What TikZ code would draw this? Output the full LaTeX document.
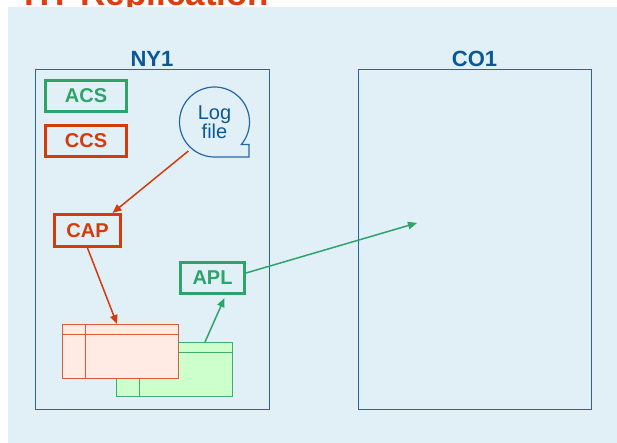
\documentclass[tikz,border=0pt]{standalone}
\usepackage{fontspec}
\setmainfont{Liberation Sans}
\usetikzlibrary{arrows.meta,calc}
\definecolor{panel}{HTML}{E1F0F6}
\definecolor{siteblue}{HTML}{2566A6}
\definecolor{labelblue}{HTML}{0B5896}
\definecolor{gsgreen}{HTML}{2EA36A}
\definecolor{rsred}{HTML}{D43A0C}
\definecolor{titlered}{HTML}{D9410F}
\definecolor{redfill}{HTML}{FFEAE4}
\definecolor{redline}{HTML}{DE5A36}
\definecolor{greenfill}{HTML}{CCFFCC}
\definecolor{greenline}{HTML}{40AC70}

\begin{document}
\begin{tikzpicture}[x=1pt,y=1pt,
  site/.style={draw=siteblue, line width=1pt, inner sep=0},
  sitelabel/.style={font=\fontsize{22}{22}\selectfont\bfseries, text=labelblue, anchor=base, inner sep=0},
  proc/.style={draw=#1, text=#1, line width=2.6pt, font=\fontsize{20}{20}\selectfont\bfseries, inner sep=0},
  tab/.style={draw=#1, line width=1pt, minimum width=116pt, minimum height=54pt, inner sep=0},
  flow/.style={draw=#1, line width=1.5pt, -{Triangle[length=9pt,width=7.5pt]}},
]
\useasboundingbox (0,0) rectangle (617,443);
\clip (0,0) rectangle (617,443);

% heading (mostly above the page edge), then the background panel
\node[anchor=base west, inner sep=0, text=titlered, font=\fontsize{35}{35}\selectfont\bfseries] (title) at (24,437) {HT Replication};
\fill[panel] (8,0) rectangle (617,436);

% sites
\node[site, minimum width=234pt, minimum height=340pt] (ny) at (152,203) {};
\node[site, minimum width=233pt, minimum height=340pt] (co) at (474.5,203) {};
\node[sitelabel] (nylabel) at ($(ny.north)+(0,2.5)$) {NY1};
\node[sitelabel] (colabel) at ($(co.north)+(0,2.5)$) {CO1};
\coordinate (target) at (417,220);

% processes
\node[proc=gsgreen, minimum width=81.5pt, minimum height=31.5pt] (acs) at (86,347) {ACS};
\node[proc=rsred, minimum width=81.5pt, minimum height=31.5pt] (ccs) at (86,302) {CCS};
\node[proc=rsred, minimum width=66.5pt, minimum height=32.5pt] (cap) at (87.5,212.5) {CAP};
\node[proc=gsgreen, minimum width=64.5pt, minimum height=31.5pt] (apl) at (212.5,165) {APL};

% log file bubble
\node[circle, minimum size=70pt, inner sep=0, outer sep=4pt, align=center, text=labelblue,
      font=\fontsize{20}{19}\selectfont] (logf) at (214.5,321) {Log\\file};
\draw[siteblue, line width=1.2pt]
  ($(logf.center)+(-40:35)$) arc[start angle=-40, end angle=270, radius=35]
  -- ($(logf.center)+(34.5,-35)$) -- ($(logf.center)+(34.5,-22.5)$) -- cycle;

% tables
\node[tab=greenline, fill=greenfill] (greentab) at (174.5,73.5) {};
\draw[greenline, line width=1pt]
  ($(greentab.north west)+(0,-11)$) -- ($(greentab.north east)+(0,-11)$)
  ($(greentab.north west)+(23,0)$) -- ($(greentab.south west)+(23,0)$);
\node[tab=redline, fill=redfill] (redtab) at (120.5,91.5) {};
\draw[redline, line width=1pt]
  ($(redtab.north west)+(0,-11)$) -- ($(redtab.north east)+(0,-11)$)
  ($(redtab.north west)+(23,0)$) -- ($(redtab.south west)+(23,0)$);

% connectors
\draw[flow=rsred] (logf.228) -- ($(cap.north)+(25,0)$);
\draw[flow=rsred] (cap.south) -- ($(redtab.north)+(-3.5,0)$);
\draw[flow=gsgreen] ($(greentab.north)+(30.5,0)$) -- ($(apl.south)+(12,-3)$);
\draw[flow=gsgreen] ($(apl.east)+(0,5)$) -- (target);
\end{tikzpicture}
\end{document}
